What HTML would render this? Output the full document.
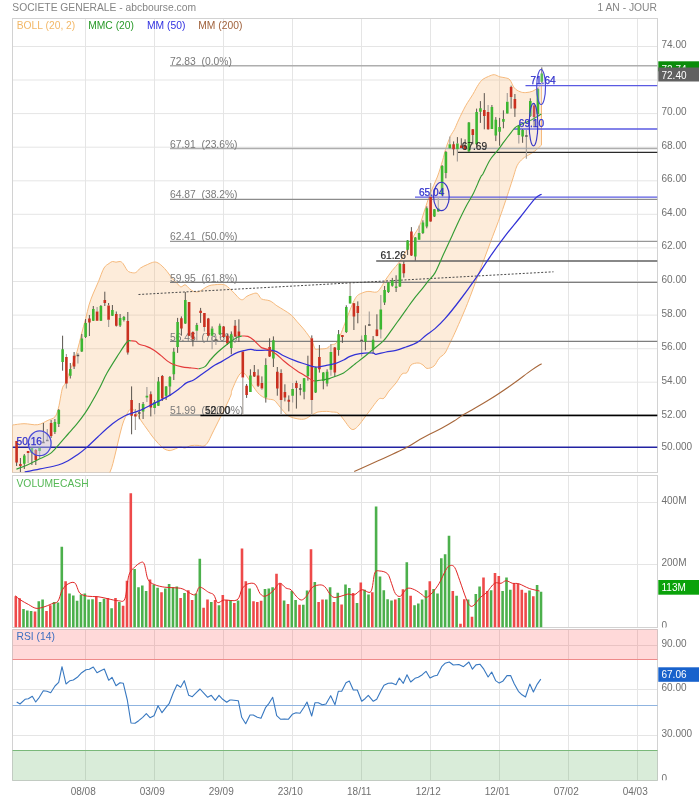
<!DOCTYPE html>
<html><head><meta charset="utf-8"><title>SOCIETE GENERALE</title>
<style>html,body{margin:0;padding:0;background:#fff}body{width:699px;height:800px;overflow:hidden;font-family:"Liberation Sans",sans-serif}svg{display:block;will-change:transform;transform:translateZ(0)}</style>
</head><body>
<svg width="699" height="800" viewBox="0 0 699 800" font-family="Liberation Sans, sans-serif" font-size="10.5">
<defs>
<clipPath id="c1"><rect x="12.5" y="18.5" width="645.0" height="454.0"/></clipPath>
<clipPath id="c2"><rect x="12.5" y="475.5" width="645.0" height="152.0"/></clipPath>
<clipPath id="c3"><rect x="12.5" y="629.5" width="645.0" height="151.0"/></clipPath>
<clipPath id="cz1"><rect x="658" y="600" width="41" height="27.4"/></clipPath>
<clipPath id="cz2"><rect x="658" y="760" width="41" height="20.3"/></clipPath>
</defs>
<rect width="699" height="800" fill="#fff"/>
<path d="M85.5 18.5V472.5M85.5 475.5V627.5M85.5 629.5V780.5M154.5 18.5V472.5M154.5 475.5V627.5M154.5 629.5V780.5M223.5 18.5V472.5M223.5 475.5V627.5M223.5 629.5V780.5M292.5 18.5V472.5M292.5 475.5V627.5M292.5 629.5V780.5M361.5 18.5V472.5M361.5 475.5V627.5M361.5 629.5V780.5M430.5 18.5V472.5M430.5 475.5V627.5M430.5 629.5V780.5M499.5 18.5V472.5M499.5 475.5V627.5M499.5 629.5V780.5M568.5 18.5V472.5M568.5 475.5V627.5M568.5 629.5V780.5M637.5 18.5V472.5M637.5 475.5V627.5M637.5 629.5V780.5M12.5 415.8H657.5M12.5 382.2H657.5M12.5 348.7H657.5M12.5 315.1H657.5M12.5 281.5H657.5M12.5 247.9H657.5M12.5 214.3H657.5M12.5 180.8H657.5M12.5 147.2H657.5M12.5 113.6H657.5M12.5 80H657.5M12.5 46.5H657.5M12.5 502.5H657.5M12.5 564.5H657.5M12.5 645.5H657.5M12.5 689.5H657.5M12.5 735.5H657.5" stroke="#e5e5e5" stroke-width="1" fill="none"/>
<rect x="12.5" y="18.5" width="645.0" height="454.0" fill="none" stroke="#d2d2d2" stroke-width="1"/>
<rect x="12.5" y="475.5" width="645.0" height="152.0" fill="none" stroke="#d2d2d2" stroke-width="1"/>
<rect x="12.5" y="629.5" width="645.0" height="151.0" fill="none" stroke="#d2d2d2" stroke-width="1"/>
<text x="12.3" y="11.1" fill="#858585" font-size="10.3">SOCIETE GENERALE - abcbourse.com</text>
<text x="657" y="11.1" fill="#858585" font-size="10.3" text-anchor="end">1 AN - JOUR</text>
<g clip-path="url(#c1)">
<path d="M12.5 425C14.4 424.8 19.8 423.8 24 423.7C28.2 423.6 33.8 425.3 37.8 424.7C41.8 424.1 45.1 421.6 48 420.3C50.9 419 53.3 418.8 55 416.8C56.7 414.8 57.4 411.7 58.4 408.2C59.4 404.7 60.1 399.5 60.8 396C61.5 392.5 61.9 389.6 62.7 387.3C63.5 385.1 64.2 385.9 65.7 382.5C67.2 379.1 69.5 372.2 71.4 367C73.3 361.8 75.4 356.8 77.1 351.4C78.8 345.9 80 339.8 81.4 334.3C82.8 328.8 84.4 323.5 85.7 318.6C87 313.7 87.8 309.1 89 305C90.2 300.9 91.4 297.9 93 294C94.6 290.1 96.7 285.8 98.5 281.5C100.3 277.2 102.2 271 104 268C105.8 265 107.6 264.6 109 263.5C110.4 262.4 111.3 261.7 112.5 261.5C113.7 261.3 114.8 262.2 116 262.2C117.2 262.2 118.8 261.3 120 261.5C121.2 261.7 122 262.3 123 263.5C124 264.7 125.1 267.2 126 268.5C126.9 269.8 127.3 270.8 128.4 271.5C129.5 272.2 131.4 272.7 132.7 272.8C134 272.9 134.9 273.1 136.2 272.3C137.5 271.5 138.7 269.3 140.5 268C142.3 266.7 145.3 265.5 147.3 264.6C149.3 263.7 150.9 262.8 152.5 262.4C154.1 262 155.2 261.8 156.8 262.4C158.4 263 160.2 264.3 161.9 265.8C163.6 267.3 165.4 269.4 167.1 271.5C168.8 273.6 170.6 276.4 172.2 278.3C173.8 280.2 175.1 281.2 176.5 282.6C177.9 284 179.4 286.5 180.8 286.9C182.2 287.3 183.7 284.5 185.1 284.8C186.5 285.1 188 287.5 189.4 288.6C190.8 289.7 192.1 291 193.7 291.5C195.3 292 197.2 292.1 198.8 291.7C200.4 291.3 201.4 290.1 203.1 289.1C204.8 288.1 207.2 286.4 209.1 285.7C211 285 212.3 285 214.3 284.8C216.3 284.6 219.2 284.2 221.1 284.3C222.9 284.4 224 284.5 225.4 285.2C226.8 285.9 228.1 287.2 229.7 288.6C231.3 290 233.3 292.2 234.9 293.8C236.5 295.4 237.9 297.4 239.2 298.4C240.5 299.4 241.3 300 242.6 299.7C243.9 299.4 245.3 297.2 246.9 296.3C248.5 295.4 250.3 294.6 252 294.1C253.7 293.6 255.6 292.6 257.2 293.4C258.8 294.2 259.4 297.6 261.5 298.9C263.6 300.1 267.4 299.8 270 300.9C272.6 302 274.6 304.3 276.9 305.8C279.2 307.3 281.4 308.4 283.8 310C286.2 311.6 289.4 313.3 291.5 315.2C293.6 317.1 294.7 318.9 296.7 321.2C298.7 323.5 301.5 326.5 303.5 328.9C305.5 331.3 307.3 333.8 308.7 335.8C310.1 337.8 311.1 338.8 312.1 340.9C313.2 343 313.9 347.3 315 348.7C316.1 350.1 317.1 349.1 319 349C320.9 348.9 324.7 349 326.7 348.3C328.7 347.6 329.4 345.8 331 344.9C332.6 344 334.5 344.9 336.1 343.2C337.7 341.5 339 338.1 340.4 334.9C341.8 331.7 343.3 327.5 344.7 323.8C346.1 320.1 347.6 316.2 349 312.6C350.4 309 352 305 353.3 302.3C354.6 299.6 355.5 297.8 356.7 296.3C357.9 294.9 358.8 294.4 360.7 293.6C362.6 292.8 365.3 291.6 367.9 291.4C370.5 291.1 374.3 292.7 376.4 292.1C378.5 291.5 379.3 289.8 380.7 287.9C382.1 286 383.1 283.6 385 280.7C386.9 277.8 389.7 273.8 392.1 270.7C394.5 267.6 396.9 265.4 399.3 262.1C401.7 258.8 404 255 406.4 250.7C408.8 246.3 411.4 240.2 413.6 236C415.8 231.8 417.7 230 419.5 225.8C421.3 221.6 422.6 216.3 424.4 211C426.1 205.7 427.9 199.7 430 194C432.1 188.3 435.2 182.5 437.3 177C439.4 171.5 441.1 165.4 442.5 160.8C443.9 156.2 444.2 153.6 445.5 149.5C446.8 145.4 448.8 139.8 450.3 136.5C451.8 133.2 453 132.2 454.4 129.5C455.8 126.8 456.7 124 458.6 120C460.5 116 463.3 110 465.7 105.7C468.1 101.4 470.8 97.9 472.9 94.3C475 90.7 476.9 86.8 478.6 84.3C480.3 81.8 481.2 80.6 482.9 79.3C484.6 78 486.7 77.2 488.6 76.4C490.5 75.6 492.4 74.6 494.3 74.7C496.2 74.8 498.1 76.4 500 76.9C501.9 77.4 504 77.4 505.7 77.9C507.4 78.4 508.6 78.3 510 80C511.4 81.7 512.6 86 514.3 87.9C516 89.9 518.1 90.9 520 91.7C521.9 92.5 523.6 92.7 525.7 92.6C527.9 92.5 530.8 92 532.9 91.1C535 90.2 537.1 88.4 538.5 87.3C539.9 86.2 541 85 541.5 84.6L541.5 145.1C540.3 146.2 536.4 149.8 534.3 151.4C532.1 153.1 530.5 153.8 528.6 155C526.7 156.2 524.8 156.8 522.9 158.6C521 160.4 518.9 162.1 517.1 165.7C515.4 169.3 515 172 512.4 180C509.8 188 504.9 203.1 501.2 213.7C497.4 224.3 493.6 233.7 489.9 243.7C486.1 253.7 482.4 263.7 478.7 273.7C474.9 283.7 471.1 294.3 467.4 303.7C463.6 313.1 459.1 323.3 456.2 329.9C453.3 336.4 451.9 339.1 450 343C448.1 346.9 446.8 350.4 445 353C443.2 355.6 440.8 356.2 439 358.4C437.2 360.6 436 364.3 434 366C432 367.7 428.8 368.6 427 368.4C425.2 368.2 424.5 365.9 423 365C421.5 364.1 420 363 418 363C416 363 412.8 363.4 411 365C409.2 366.6 408.5 371.1 407 372.6C405.5 374.1 403.8 372.3 402 374C400.2 375.7 398.2 380.2 396 383C393.8 385.8 391 388.5 389 391C387 393.5 385.5 397 384 398.2C382.5 399.4 381.2 397.9 380 398.4C378.8 398.9 378.5 399.2 377 401C375.5 402.8 373 406.3 371 409C369 411.7 367 414.3 365 417C363 419.7 360.8 422.9 359 425C357.2 427.1 355.5 428.8 354 429.3C352.5 429.8 351.7 429.6 350 428C348.3 426.4 346 422.5 344 420C342 417.5 340 414.3 338 413C336 411.7 333.9 412.3 332 412C330.1 411.7 328.8 411.4 326.4 411.4C324 411.4 320.3 411.4 317.9 412C315.5 412.6 314.1 413.9 312 415C309.9 416.1 307.4 418.2 305 418.9C302.6 419.5 300.5 419.3 297.9 418.9C295.3 418.5 291.7 417.6 289.3 416.4C286.9 415.1 285.5 413.4 283.6 411.4C281.7 409.4 279.6 406.2 277.9 404.3C276.2 402.4 275.5 400.9 273.6 400C271.7 399.1 268.8 399.6 266.4 398.6C264 397.7 261.4 396.2 259.3 394.3C257.2 392.4 255.8 390.1 253.6 387C251.4 383.9 248.3 378.1 246.4 375.7C244.5 373.3 243.4 372.4 242 372.6C240.6 372.8 239.6 374.1 237.9 377C236.2 379.9 233.2 387 232 390C230.8 393 232 392.3 231 395C230 397.7 227.7 402.5 226 406C224.3 409.5 222.7 412.7 221 416C219.3 419.3 217.5 423 216 426C214.5 429 213.3 431.3 212 434C210.7 436.7 209.3 440 208 442C206.7 444 205.7 445.4 204 446C202.3 446.6 200.2 445.5 198 445.4C195.8 445.3 193.2 445.2 191 445.6C188.8 446 186.8 447.8 185 448C183.2 448.2 181.8 446.8 180 447C178.2 447.2 175.8 448.8 174 449.4C172.2 450 170.8 450.8 169 450.6C167.2 450.4 165 449.4 163 448C161 446.6 158.8 444 157 442C155.2 440 153.7 438.2 152 436C150.3 433.8 148.7 431.3 147 429C145.3 426.7 143.7 424.5 142 422C140.3 419.5 138.5 416.1 137 414C135.5 411.9 134.2 410.2 133 409.4C131.8 408.6 131 408.6 130 409.4C129 410.2 128.2 411.7 127 414C125.8 416.3 124.3 419 123 423C121.7 427 120.3 432.7 119 438C117.7 443.3 116.5 449.3 115 455C113.5 460.7 112.5 466.5 110 472C107.5 477.5 108.3 484.7 100 488C91.7 491.3 74.6 491.7 60 492C45.4 492.3 20.4 490.3 12.5 490Z" fill="#f7b571" fill-opacity="0.26" stroke="#f5b97c" stroke-width="1" stroke-linejoin="round"/>
<path d="M170 65.8H657.5" stroke="#aeaeae" stroke-width="1.6"/>
<text x="170" y="64.9" fill="#7a7a7a" font-size="10.3" xml:space="preserve" style="white-space:pre">72.83  (0.0%)</text>
<path d="M170 148.5H657.5" stroke="#aeaeae" stroke-width="1.6"/>
<text x="170" y="147.6" fill="#7a7a7a" font-size="10.3" xml:space="preserve" style="white-space:pre">67.91  (23.6%)</text>
<path d="M170 199.3H657.5" stroke="#8c8c8c" stroke-width="1.25"/>
<text x="170" y="198.4" fill="#7a7a7a" font-size="10.3" xml:space="preserve" style="white-space:pre">64.87  (38.2%)</text>
<path d="M170 241.3H657.5" stroke="#979797" stroke-width="1.15"/>
<text x="170" y="240.4" fill="#7a7a7a" font-size="10.3" xml:space="preserve" style="white-space:pre">62.41  (50.0%)</text>
<path d="M170 282.4H657.5" stroke="#7e7e7e" stroke-width="1.15"/>
<text x="170" y="281.5" fill="#7a7a7a" font-size="10.3" xml:space="preserve" style="white-space:pre">59.95  (61.8%)</text>
<path d="M170 341.4H657.5" stroke="#7e7e7e" stroke-width="1.15"/>
<text x="170" y="340.5" fill="#7a7a7a" font-size="10.3" xml:space="preserve" style="white-space:pre">56.45  (78.6%)</text>
<path d="M170 415.2H657.5" stroke="#8a8a8a" stroke-width="1.2"/>
<text x="170" y="414.3" fill="#7a7a7a" font-size="10.3" xml:space="preserve" style="white-space:pre">51.99  (100.0%)</text>
<path d="M200.4 415.5H657.5" stroke="#000" stroke-width="1.6"/>
<path d="M376.2 261H657.5" stroke="#606060" stroke-width="1.7"/>
<path d="M457 152.4H657.5" stroke="#2a2a2a" stroke-width="1.1"/>
<path d="M12.5 447.2H657.5" stroke="#2222a2" stroke-width="1.35"/>
<path d="M415 197.1H657.5" stroke="#5a5ae2" stroke-width="1.35"/>
<path d="M514 129H657.5" stroke="#5a5ae2" stroke-width="1.35"/>
<path d="M525.5 85.6H657.5" stroke="#5a5ae2" stroke-width="1.35"/>
<path d="M138.5 294.5L553.5 271.8" stroke="#4a4a4a" stroke-width="1" stroke-dasharray="2 1.7"/>
<path d="M16.6 441V466M20.4 458V472M24.3 454V469M31.9 447V465M35.8 449V465M39.6 447V448M43.4 423V443M51.1 420V438M54.9 419V434M58.8 409V427M62.6 335.7V370.7M70.3 363V378.5M74.1 352V369M81.8 334V352M85.6 319V338M89.4 315V336M93.3 306V321M97.1 320.7V321M100.9 305V321M104.8 291.7V306M108.6 303V305.4M112.4 305V316M116.3 311.5V326.5M120.1 314V327M123.9 316V321.5M127.8 312V354.6M131.6 386.4V434.3M139.3 403V419.3M143.1 402V419M150.8 391.4V416.4M154.6 400V402M158.4 377V406M162.3 375V401M166.1 386V400M169.9 376V396M173.8 347.9V380M177.6 317.9V352.9M181.4 316.4V335.7M185.3 292V324M189.1 302V336M192.9 331.4V346.4M196.8 322.9V325M200.6 307.9V322.9M204.4 313V313M208.3 317.9V336M212.1 326.4V328.6M219.8 323.6V335M223.6 326V338M227.4 334V345M231.3 331.4V354.3M235.1 320V337M238.9 319.3V342M242.8 351V351.4M246.6 384V397.9M250.4 369.3V392M254.3 365V377M258.1 369.3V387M261.9 376.4V382.9M265.8 358.3V402.6M269.6 338.3V357M273.4 336.4V367M277.3 367V395.7M281.1 369.3V372.9M284.9 384.3V401.4M288.8 395.4V411.4M296.4 380.7V408.6M300.3 384V395.4M304.1 378V399.3M307.9 355.7V380.7M311.8 335.4V338.3M315.6 367V393M319.4 345V372.6M323.3 372V389.3M327.1 369.3V386.4M334.8 347V377M338.6 330V355.7M342.4 335V342.9M346.3 305.3V333M350.1 303.6V304M353.9 303V330M357.8 301.4V323.3M365.4 325.3V350.3M373.1 336V354M376.9 314.3V336.3M384.6 286V305M388.4 282V293M392.3 277.9V286.7M396.1 275.3V292M399.9 263V287M403.8 261.4V277.6M407.6 240V255M411.4 227.1V256M415.3 237V260.7M419.1 239.7V240M422.9 220.3V234M426.8 206.4V228.3M430.6 221.4V222M434.4 209V217M442.1 165V196M445.9 151V178.3M449.8 148.3V148.5M453.6 141.4V155.4M457.4 137.1V143.6M461.3 138.3V148M465.1 139.3V150M468.9 122V152M472.8 129V144.3M476.6 108.6V145M480.4 101.1V122.9M484.3 93.1V129.3M488.1 129.3V130M491.9 105V129M495.8 117.1V141.1M499.6 117.9V145.7M503.4 110.3V128.3M507.3 113.6V114M511.1 85.7V108.6M514.9 94V116.9M518.8 125V126M522.6 129V142.8M530.3 98.3V117M534.1 103V126M537.9 88V116M541.8 67.4V83" stroke="#5a544e" stroke-width="1" fill="none"/>
<path d="M28.1 451V463M39.6 451V458M47.3 429V441M66.4 354V388.5M77.9 353V363.5M97.1 307V311.4M108.6 319.7V327M135.4 409V430M146.9 387V402M154.6 407.9V414.3M196.8 330.7V340.7M204.4 326.9V331.4M212.1 335.7V349.3M215.9 335.7V345M242.8 377.4V415M261.9 388.6V390M281.1 400V415M292.6 382.9V402.6M311.8 400V415M330.9 344V375.7M350.1 282.9V296.1M361.6 335.5V356.5M369.3 311.4V325.5M380.8 295V338.6M419.1 225.4V233.1M430.6 182.9V197.1M438.3 197V212M449.8 136.4V144.3M457.4 149.3V161.4M488.1 105V112.1M507.3 93.1V101.7M518.8 135V143.6M526.4 130V158.8" stroke="#a8a29c" stroke-width="1.2" fill="none"/>
<path d="M23 455.5h2.6v8.2h-2.6zM30.6 448h2.6v5h-2.6zM38.3 448h2.6v3h-2.6zM53.6 422h2.6v10h-2.6zM57.5 410h2.6v14h-2.6zM61.3 349.3h2.6v12.7h-2.6zM69 369h2.6v6.7h-2.6zM80.5 338.6h2.6v12.8h-2.6zM84.3 322.9h2.6v14.1h-2.6zM92 309h2.6v11.7h-2.6zM99.6 306h2.6v14.7h-2.6zM111.1 310h2.6v5.7h-2.6zM118.8 317.9h2.6v7.5h-2.6zM122.6 317h2.6v3h-2.6zM141.8 404h2.6v7.4h-2.6zM145.6 395.7h2.6v1.8h-2.6zM153.3 402h2.6v5.9h-2.6zM157.1 381.4h2.6v24.3h-2.6zM164.8 386.4h2.6v9.3h-2.6zM168.6 376.9h2.6v9.5h-2.6zM172.5 351.7h2.6v22.6h-2.6zM176.3 322h2.6v24.9h-2.6zM184 300h2.6v23.6h-2.6zM195.5 325h2.6v5.7h-2.6zM210.8 328.6h2.6v7.1h-2.6zM218.5 325.7h2.6v8.6h-2.6zM230 334.3h2.6v13.6h-2.6zM249.1 375.4h2.6v16.6h-2.6zM264.5 365h2.6v32.4h-2.6zM272.1 340.3h2.6v18.3h-2.6zM291.3 388.9h2.6v6.8h-2.6zM302.8 378.3h2.6v13.4h-2.6zM306.6 366h2.6v10h-2.6zM314.3 367.4h2.6v25.2h-2.6zM322 372.6h2.6v8.5h-2.6zM325.8 371.7h2.6v11.9h-2.6zM329.6 352.1h2.6v17.6h-2.6zM337.3 334.3h2.6v15.7h-2.6zM345 307.1h2.6v25h-2.6zM348.8 296.1h2.6v7.5h-2.6zM364.1 335h2.6v6.8h-2.6zM371.8 339.8h2.6v9.6h-2.6zM379.5 309.6h2.6v20h-2.6zM383.3 290h2.6v12.4h-2.6zM387.1 282.4h2.6v9.7h-2.6zM391 280.4h2.6v5.3h-2.6zM394.8 286.4h2.6v1.6h-2.6zM398.6 263.9h2.6v22.5h-2.6zM406.3 240.4h2.6v9.3h-2.6zM414 237.5h2.6v18.9h-2.6zM417.8 233.1h2.6v6.6h-2.6zM421.6 222.6h2.6v10.5h-2.6zM425.5 208.3h2.6v18.1h-2.6zM433.1 209.3h2.6v7.1h-2.6zM437 208.6h2.6v2.8h-2.6zM440.8 166h2.6v29h-2.6zM444.6 152.1h2.6v21h-2.6zM448.5 144.3h2.6v4h-2.6zM456.1 143.6h2.6v5.7h-2.6zM467.6 122.6h2.6v28.8h-2.6zM475.3 112.1h2.6v32.2h-2.6zM479.1 108.3h2.6v3.4h-2.6zM490.6 106.9h2.6v22h-2.6zM494.5 119.7h2.6v15.7h-2.6zM498.3 127.1h2.6v4.6h-2.6zM502.1 118.9h2.6v2.8h-2.6zM506 101.7h2.6v11.9h-2.6zM517.5 126h2.6v9h-2.6zM521.3 130h2.6v6.6h-2.6zM529 101h2.6v15h-2.6zM536.6 89h2.6v25h-2.6zM540.5 73.6h2.6v8.2h-2.6z" fill="#3db732"/>
<path d="M15.3 441h2.6v21.4h-2.6zM19.1 464h2.6v2h-2.6zM26.8 451h2.6v2h-2.6zM34.5 450h2.6v10h-2.6zM49.8 423h2.6v13h-2.6zM65.1 357h2.6v26.6h-2.6zM72.8 355.7h2.6v10.7h-2.6zM88.1 318.6h2.6v4h-2.6zM95.8 311.4h2.6v9.3h-2.6zM103.5 300h2.6v2.9h-2.6zM107.3 305.4h2.6v14.3h-2.6zM115 314h2.6v11.7h-2.6zM126.5 321h2.6v31.6h-2.6zM130.3 400h2.6v15.7h-2.6zM134.1 414.3h2.6v2.1h-2.6zM149.5 394.3h2.6v13.3h-2.6zM161 376h2.6v22.6h-2.6zM180.1 318.3h2.6v10.3h-2.6zM187.8 302h2.6v33.7h-2.6zM191.6 332h2.6v7.3h-2.6zM199.3 310.7h2.6v2.2h-2.6zM203.1 313h2.6v13.9h-2.6zM207 318.6h2.6v17.1h-2.6zM222.3 326.4h2.6v10.6h-2.6zM226.1 335.7h2.6v7.9h-2.6zM233.8 325.7h2.6v10.7h-2.6zM237.6 331.4h2.6v5h-2.6zM241.5 351.4h2.6v26h-2.6zM245.3 385.7h2.6v9.3h-2.6zM253 372h2.6v4.4h-2.6zM256.8 375.4h2.6v10.3h-2.6zM260.6 382.9h2.6v5.7h-2.6zM268.3 346.9h2.6v9.5h-2.6zM276 371.7h2.6v16.9h-2.6zM279.8 372.9h2.6v27.1h-2.6zM283.6 392h2.6v5.4h-2.6zM287.5 399.7h2.6v2h-2.6zM295.1 382.9h2.6v5h-2.6zM310.5 338.3h2.6v61.7h-2.6zM318.1 357.1h2.6v12.2h-2.6zM333.5 347.4h2.6v25.2h-2.6zM341.1 335h2.6v2h-2.6zM352.6 303.3h2.6v13.1h-2.6zM356.5 306.1h2.6v6.8h-2.6zM375.6 329.6h2.6v6.5h-2.6zM402.5 263.9h2.6v9.4h-2.6zM410.1 231.4h2.6v24h-2.6zM429.3 197.1h2.6v24.3h-2.6zM452.3 144.3h2.6v5h-2.6zM460 145.4h2.6v2.5h-2.6zM463.8 145.4h2.6v3.9h-2.6zM471.5 129.3h2.6v5.7h-2.6zM483 110h2.6v6h-2.6zM486.8 112.1h2.6v17.2h-2.6zM509.8 86.9h2.6v10h-2.6zM513.6 98.9h2.6v9.7h-2.6zM532.8 105.6h2.6v11.4h-2.6z" fill="#c93020"/>
<path d="M42.1 441.8h2.6v1.4h-2.6zM46 439.8h2.6v1.4h-2.6zM76.6 354.8h2.6v1.4h-2.6zM138 412.3h2.6v1.4h-2.6zM214.6 339.3h2.6v1.4h-2.6zM299 388.3h2.6v1.4h-2.6zM360.3 339.8h2.6v1.4h-2.6zM368 324.3h2.6v1.4h-2.6zM525.1 135.3h2.6v1.4h-2.6z" fill="#5a544e"/>
<path d="M354.2 471.6C358.1 469.9 368.6 465.2 377.5 461.1C386.4 457 400.6 450.4 407.5 446.9C414.4 443.4 415.2 442.1 419 440C422.8 437.9 426.2 436 430 434C433.8 432 438 430.2 442 428C446 425.8 450.7 423.1 454 421C457.3 418.9 459.3 417.3 462 415.6C464.7 413.9 465.4 413.7 470 411C474.6 408.3 482.8 403.8 489.9 399.3C497 394.9 505.5 389.1 512.4 384.3C519.3 379.5 526.3 373.8 531.2 370.4C536.1 367 539.9 364.8 541.6 363.7" fill="none" stroke="#a8683c" stroke-width="1.1"/>
<path d="M24.7 472C27.3 471.5 34.6 470.1 40.2 468.9C45.8 467.7 53.5 466.4 58.2 465C62.9 463.6 65.3 462.2 68.5 460.5C71.7 458.8 74.5 456.8 77.5 454.7C80.5 452.6 83.1 450.6 86.5 447.6C89.9 444.6 93.7 440.7 98 436.7C102.3 432.7 108 427.3 112.5 423.8C117 420.3 120.5 417.9 125 415.7C129.5 413.5 134.5 412.7 139.3 410.7C144.1 408.7 148.8 406 153.6 403.6C158.4 401.2 163.6 398.9 167.9 396.4C172.2 393.9 176.2 390.9 179.3 388.6C182.4 386.4 184 384.3 186.4 382.9C188.8 381.5 191.2 381.3 193.6 380C196 378.7 198.3 376.7 200.7 375C203.1 373.3 205.5 371.7 207.9 370C210.3 368.3 212.7 366.4 215 365C217.3 363.6 219.6 362.7 222 361.4C224.4 360.1 226.9 358.4 229.3 357C231.7 355.6 234 353.9 236.4 352.9C238.8 351.8 241.2 351.3 243.6 350.7C246 350.1 248.6 349.4 250.7 349.3C252.8 349.2 252.6 350.1 256.4 350.3C260.2 350.5 269.1 349.8 273.6 350.7C278.1 351.6 280 354 283.6 355.7C287.2 357.4 291.4 359.3 295 360.7C298.6 362.1 302.2 363.1 305 364C307.8 364.9 309.9 365.9 312 366.4C314.1 366.9 315.5 367.2 317.9 367C320.3 366.8 323.5 366 326.4 365.4C329.2 364.8 332.1 364.5 335 363.6C337.9 362.7 341.1 361.2 343.6 360C346.1 358.8 347.3 357.5 350 356.4C352.7 355.3 356.2 354.2 360 353.6C363.8 353 370.3 352.9 373 353C375.7 353.1 373.8 354.5 376 354.3C378.2 354.1 382.7 352.6 386 352C389.3 351.4 392.7 351.2 396 350.4C399.3 349.6 403 348.1 406 347C409 345.9 411.8 345 414 344C416.2 343 416.9 342.7 419 341.2C421.1 339.7 423.7 337.1 426.4 335C429.1 332.9 431.9 331.3 435 328.6C438.1 325.9 440.8 323.5 445 318.7C449.2 313.9 455 306.6 460 300C465 293.4 470 286.5 475 279.3C480 272.1 485 264 490 256.8C495 249.6 500 242.8 505 236.2C510 229.6 515 223.8 520 217.5C525 211.2 531.4 202.6 535 198.7C538.6 194.8 540.5 194.9 541.6 194.2" fill="none" stroke="#3232d6" stroke-width="1.25"/>
<path d="M16.4 469.2C18.2 468.5 23.3 466.8 27.3 465C31.3 463.2 36.3 460.5 40.2 458.6C44.1 456.7 47.3 455.9 50.5 453.4C53.7 450.9 56.5 447.1 59.5 443.8C62.5 440.5 65.5 436.9 68.5 433.5C71.5 430.1 74.7 426.6 77.5 423.2C80.3 419.8 83 416.1 85.2 412.9C87.4 409.7 88.3 408.1 90.7 404C93.1 399.9 96.9 393.2 99.6 388C102.3 382.8 103.8 378.6 107 373C110.2 367.4 115.3 359.5 118.6 354.3C121.9 349.1 124.9 344.2 127 342C129.1 339.8 130.3 341 131 340.8" fill="none" stroke="#359c35" stroke-width="1.15"/>
<path d="M131 340.8C131.8 340.9 134.3 340.7 135.7 341.3C137.1 341.9 137.5 343.5 139.3 344.3C141.1 345.1 144 345.4 146.4 346.4C148.8 347.3 151.2 348.5 153.6 350C156 351.5 158.3 353.5 160.7 355.4C163.1 357.3 165.8 359.9 167.9 361.4C170.1 362.9 171.2 363.6 173.6 364.5C175.9 365.4 179.2 366.3 182 366.9C184.8 367.5 187.9 367.6 190.7 367.9C193.5 368.2 197.3 368.6 198.6 368.8" fill="none" stroke="#e43a3a" stroke-width="1.15"/>
<path d="M198.6 368.8C199.7 368.4 203 368.2 205 366.6C207 365.1 208.5 361.9 210.7 359.5C212.8 357.1 215.5 354.2 217.9 352C220.3 349.8 222.7 347.9 225 346C227.3 344.1 229.8 342.2 232 340.7C234.2 339.2 236.2 337.9 237.9 337.1C239.6 336.3 241.3 336.2 242 336" fill="none" stroke="#359c35" stroke-width="1.15"/>
<path d="M242 336C243 336.1 246 335.7 247.9 336.4C249.8 337.1 251.7 338.4 253.6 340C255.5 341.6 257.9 344.4 259.3 345.7C260.7 347 260.3 347.2 262 347.9C263.7 348.6 266.9 348.9 269.3 350C271.7 351.1 274 352.5 276.4 354.3C278.8 356.1 281.2 358.7 283.6 360.7C286 362.7 288.3 364.6 290.7 366.4C293.1 368.2 295.5 369.8 297.9 371.4C300.3 372.9 302.6 374.2 305 375.7C307.4 377.2 310.3 379.4 312 380.3C313.7 381.2 314.5 380.9 315 381" fill="none" stroke="#e43a3a" stroke-width="1.15"/>
<path d="M315 381C316.2 380.8 319.6 380.4 322 380C324.4 379.6 326.9 379.3 329.3 378.6C331.7 377.9 334 376.9 336.4 376C338.8 375.1 341.5 374.1 343.6 372.9C345.8 371.7 347.4 370.1 349.3 368.6C351.2 367.1 352.6 365.9 355 364C357.4 362.1 360.9 359.5 364 357C367.1 354.5 370.3 351.7 373.6 349C376.9 346.3 380.5 344 383.6 340.7C386.7 337.4 389.5 332.9 392.1 329.3C394.7 325.7 396.9 322.6 399.3 319.3C401.7 316 404 312.6 406.4 309.3C408.8 306 411.2 302.4 413.6 299.3C416 296.2 418.3 293.7 420.7 290.7C423.1 287.7 425.5 284.4 427.9 281.4C430.3 278.4 432.4 277.5 435 272.9C437.6 268.3 440.8 260.2 443.6 254C446.5 247.8 449.5 241.4 452.1 235.7C454.7 230 456.9 225 459.3 220C461.7 215 464 210.2 466.4 205.7C468.8 201.2 471.2 197.7 473.6 192.9C476 188.1 479.1 180.2 480.7 177.1C482.2 173.9 481.3 176.8 482.9 174C484.4 171.2 487.6 163.8 490 160C492.4 156.2 494.7 154.2 497.1 151.1C499.5 148 501.9 144.6 504.3 141.4C506.7 138.2 509.5 134.5 511.4 132.1C513.3 129.7 513.8 128.5 515.7 127.1C517.6 125.7 520.3 124.8 522.9 123.6C525.5 122.4 528.3 121.6 531.4 120C534.5 118.4 539.6 115.1 541.3 114.1" fill="none" stroke="#359c35" stroke-width="1.15"/>
<ellipse cx="39.7" cy="443.3" rx="11.4" ry="12.4" fill="#c4c8ea" fill-opacity="0.45" stroke="#4a4ad8" stroke-width="1.3"/>
<ellipse cx="441.4" cy="196.4" rx="7.8" ry="14.2" fill="#e4e6fa" fill-opacity="0.18" stroke="#3636c6" stroke-width="1.15"/>
<ellipse cx="533.5" cy="124.6" rx="4.3" ry="21.3" fill="#e4e6fa" fill-opacity="0.18" stroke="#3636c6" stroke-width="1.15"/>
<ellipse cx="541.1" cy="87" rx="4.4" ry="17.5" fill="#e4e6fa" fill-opacity="0.18" stroke="#4848d6" stroke-width="1.15"/>
<text x="16.5" y="445" fill="#3030cc" stroke="#3030cc" stroke-width="0.25" font-size="10.2">50.16</text>
<text x="419" y="195.5" fill="#3030cc" stroke="#3030cc" stroke-width="0.25" font-size="10.1">65.04</text>
<text x="518.8" y="126.5" fill="#3030cc" stroke="#3030cc" stroke-width="0.25" font-size="10.1">69.10</text>
<text x="530.4" y="83.7" fill="#3030cc" stroke="#3030cc" stroke-width="0.25" font-size="10.1">71.64</text>
<text x="380.4" y="258.7" fill="#2a2a2a" stroke="#2a2a2a" stroke-width="0.2" font-size="10.2">61.26</text>
<text x="461.8" y="150.2" fill="#2a2a2a" stroke="#2a2a2a" stroke-width="0.2" font-size="10.1">67.69</text>
<text x="204.9" y="414.3" fill="#2a2a2a" stroke="#2a2a2a" stroke-width="0.2" font-size="10.1">52.00</text>
</g>
<text x="16.7" y="28.6" fill="#f2b868" font-size="10.3">BOLL (20, 2)</text>
<text x="88.2" y="28.6" fill="#2a9a2a" font-size="10.3">MMC (20)</text>
<text x="147" y="28.6" fill="#3030e0" font-size="10.3">MM (50)</text>
<text x="198.3" y="28.6" fill="#a0623c" font-size="10.3">MM (200)</text>
<text x="661.5" y="417.6" fill="#707070" font-size="10">52.00</text>
<text x="661.5" y="384" fill="#707070" font-size="10">54.00</text>
<text x="661.5" y="350.4" fill="#707070" font-size="10">56.00</text>
<text x="661.5" y="316.7" fill="#707070" font-size="10">58.00</text>
<text x="661.5" y="283.1" fill="#707070" font-size="10">60.00</text>
<text x="661.5" y="249.4" fill="#707070" font-size="10">62.00</text>
<text x="661.5" y="215.8" fill="#707070" font-size="10">64.00</text>
<text x="661.5" y="182.2" fill="#707070" font-size="10">66.00</text>
<text x="661.5" y="148.5" fill="#707070" font-size="10">68.00</text>
<text x="661.5" y="114.9" fill="#707070" font-size="10">70.00</text>
<text x="661.5" y="81.2" fill="#707070" font-size="10">72.00</text>
<text x="661.5" y="47.6" fill="#707070" font-size="10">74.00</text>
<text x="661.5" y="450.4" fill="#707070" font-size="10">50.000</text>
<rect x="658.3" y="61.3" width="41" height="10" fill="#0a8c0a"/>
<text x="661.5" y="72.7" fill="#fff" font-size="10">72.74</text>
<rect x="658.3" y="67.5" width="41" height="14" fill="#606060"/>
<text x="661.5" y="78.5" fill="#fff" font-size="10">72.40</text>
<g clip-path="url(#c2)">
<path d="M22.2 609h2.6V627.5h-2.6zM26 610.4h2.6V627.5h-2.6zM29.8 611h2.6V627.5h-2.6zM37.5 601.3h2.6V627.5h-2.6zM41.3 599.5h2.6V627.5h-2.6zM52.8 601.9h2.6V627.5h-2.6zM56.7 602.6h2.6V627.5h-2.6zM60.5 546.7h2.6V627.5h-2.6zM68.2 593.6h2.6V627.5h-2.6zM72 595.4h2.6V627.5h-2.6zM75.8 600.8h2.6V627.5h-2.6zM79.7 594.4h2.6V627.5h-2.6zM83.5 593.6h2.6V627.5h-2.6zM87.3 599.5h2.6V627.5h-2.6zM91.2 599.3h2.6V627.5h-2.6zM98.8 601.9h2.6V627.5h-2.6zM102.7 598.8h2.6V627.5h-2.6zM110.3 608.3h2.6V627.5h-2.6zM118 601.9h2.6V627.5h-2.6zM133.3 569.1h2.6V627.5h-2.6zM137.2 587.2h2.6V627.5h-2.6zM141 585.4h2.6V627.5h-2.6zM144.8 591h2.6V627.5h-2.6zM152.5 584.6h2.6V627.5h-2.6zM156.3 587.7h2.6V627.5h-2.6zM164 588.5h2.6V627.5h-2.6zM167.8 584.1h2.6V627.5h-2.6zM171.7 587.2h2.6V627.5h-2.6zM175.5 586.4h2.6V627.5h-2.6zM183.2 593.1h2.6V627.5h-2.6zM194.7 593.6h2.6V627.5h-2.6zM198.5 558.8h2.6V627.5h-2.6zM210 602.1h2.6V627.5h-2.6zM217.7 605.2h2.6V627.5h-2.6zM229.2 600h2.6V627.5h-2.6zM236.8 600.6h2.6V627.5h-2.6zM248.3 588.5h2.6V627.5h-2.6zM263.7 589h2.6V627.5h-2.6zM267.5 588.5h2.6V627.5h-2.6zM271.3 587.2h2.6V627.5h-2.6zM282.8 600.6h2.6V627.5h-2.6zM290.5 591h2.6V627.5h-2.6zM294.3 600h2.6V627.5h-2.6zM302 604.7h2.6V627.5h-2.6zM305.8 590.5h2.6V627.5h-2.6zM313.5 582h2.6V627.5h-2.6zM325 599.5h2.6V627.5h-2.6zM328.8 587.2h2.6V627.5h-2.6zM336.5 592.8h2.6V627.5h-2.6zM344.2 584.6h2.6V627.5h-2.6zM348 588h2.6V627.5h-2.6zM355.7 603.1h2.6V627.5h-2.6zM363.3 589.8h2.6V627.5h-2.6zM367.2 594.4h2.6V627.5h-2.6zM374.8 506.6h2.6V627.5h-2.6zM378.7 576.4h2.6V627.5h-2.6zM382.5 590.3h2.6V627.5h-2.6zM386.3 599.3h2.6V627.5h-2.6zM390.2 600.6h2.6V627.5h-2.6zM397.8 598h2.6V627.5h-2.6zM405.5 562.2h2.6V627.5h-2.6zM413.2 605.2h2.6V627.5h-2.6zM417 603.4h2.6V627.5h-2.6zM420.8 599.5h2.6V627.5h-2.6zM424.7 590.3h2.6V627.5h-2.6zM432.3 589h2.6V627.5h-2.6zM436.2 593.6h2.6V627.5h-2.6zM440 558.3h2.6V627.5h-2.6zM443.8 554.2h2.6V627.5h-2.6zM447.7 535.7h2.6V627.5h-2.6zM455.3 595.7h2.6V627.5h-2.6zM466.8 599.5h2.6V627.5h-2.6zM474.5 594.1h2.6V627.5h-2.6zM478.3 586.4h2.6V627.5h-2.6zM489.8 590.3h2.6V627.5h-2.6zM501.3 591h2.6V627.5h-2.6zM505.2 577.6h2.6V627.5h-2.6zM509 589.8h2.6V627.5h-2.6zM528.2 590.5h2.6V627.5h-2.6zM535.8 585.1h2.6V627.5h-2.6zM539.7 591.8h2.6V627.5h-2.6z" fill="#4cb04c"/>
<path d="M14.5 596.2h2.6V627.5h-2.6zM18.3 598.3h2.6V627.5h-2.6zM33.7 611.6h2.6V627.5h-2.6zM45.2 610.9h2.6V627.5h-2.6zM49 605.2h2.6V627.5h-2.6zM64.3 581.3h2.6V627.5h-2.6zM95 596.2h2.6V627.5h-2.6zM106.5 598h2.6V627.5h-2.6zM114.2 598h2.6V627.5h-2.6zM121.8 605.7h2.6V627.5h-2.6zM125.7 580.7h2.6V627.5h-2.6zM129.5 493.2h2.6V627.5h-2.6zM148.7 579.4h2.6V627.5h-2.6zM160.2 592.3h2.6V627.5h-2.6zM179.3 598h2.6V627.5h-2.6zM187 590.3h2.6V627.5h-2.6zM190.8 600h2.6V627.5h-2.6zM202.3 607.8h2.6V627.5h-2.6zM206.2 599.5h2.6V627.5h-2.6zM213.8 600h2.6V627.5h-2.6zM221.5 594.9h2.6V627.5h-2.6zM225.3 600h2.6V627.5h-2.6zM233 603.1h2.6V627.5h-2.6zM240.7 548.5h2.6V627.5h-2.6zM244.5 581.3h2.6V627.5h-2.6zM252.2 601.3h2.6V627.5h-2.6zM256 601.9h2.6V627.5h-2.6zM259.8 600.8h2.6V627.5h-2.6zM275.2 573.8h2.6V627.5h-2.6zM279 583.3h2.6V627.5h-2.6zM286.7 603.9h2.6V627.5h-2.6zM298.2 604.7h2.6V627.5h-2.6zM309.7 549.3h2.6V627.5h-2.6zM317.3 601.9h2.6V627.5h-2.6zM321.2 599.5h2.6V627.5h-2.6zM332.7 601.9h2.6V627.5h-2.6zM340.3 604.4h2.6V627.5h-2.6zM351.8 593.1h2.6V627.5h-2.6zM359.5 582.5h2.6V627.5h-2.6zM371 592.3h2.6V627.5h-2.6zM394 599.5h2.6V627.5h-2.6zM401.7 589.2h2.6V627.5h-2.6zM409.3 595.7h2.6V627.5h-2.6zM428.5 581.3h2.6V627.5h-2.6zM451.5 591h2.6V627.5h-2.6zM459.2 623.7h2.6V627.5h-2.6zM463 599.3h2.6V627.5h-2.6zM470.7 616.8h2.6V627.5h-2.6zM482.2 577.4h2.6V627.5h-2.6zM486 591h2.6V627.5h-2.6zM493.7 573h2.6V627.5h-2.6zM497.5 576.1h2.6V627.5h-2.6zM512.8 583.3h2.6V627.5h-2.6zM516.7 584.1h2.6V627.5h-2.6zM520.5 589.8h2.6V627.5h-2.6zM524.3 592.8h2.6V627.5h-2.6zM532 596.2h2.6V627.5h-2.6z" fill="#ee4a4a"/>
<path d="M15 595.7C15.9 596.4 18.4 598.5 20.6 600C22.8 601.5 25.7 603 28.3 604.4C30.9 605.8 33.4 607.9 36 608.3C38.6 608.7 41.2 607.7 43.8 607C46.4 606.3 49.1 604.9 51.5 603.9C53.9 602.9 56.2 603.4 57.9 601.3C59.6 599.1 60.3 593.8 61.8 591C63.3 588.2 64.8 586 67 584.6C69.2 583.2 72.6 581.4 74.7 582.8C76.8 584.2 77.7 590.9 79.8 593.1C81.9 595.3 84.6 595.6 87.6 596.2C90.6 596.8 94.5 596.3 97.9 596.7C101.3 597.1 104.8 598.1 108.2 598.8C111.6 599.5 115.7 600.8 118.5 600.8C121.3 600.8 123.2 603 124.9 598.8C126.6 594.6 127.3 580.8 128.8 575.6C130.3 570.5 132 570 133.9 567.9C135.8 565.8 138.7 563.4 140.4 562.7C142.1 562.1 142.9 561.2 144.2 564C145.5 566.8 146.3 576 148 579.4C149.7 582.8 151.7 583.3 154.5 584.6C157.3 585.9 161.4 586.7 164.8 587.2C168.2 587.7 172 587.5 175 587.8C178 588.1 179.7 587.8 182.9 589C186.2 590.2 191.7 595.2 194.5 594.9C197.3 594.6 197.2 587.6 199.6 587.2C201.9 586.8 206.2 591 208.6 592.3C211 593.6 212.3 593.2 213.8 594.9C215.3 596.6 215.9 601.8 217.6 602.6C219.3 603.5 220.9 600.4 224.1 600C227.3 599.6 234 601.8 237 600C240 598.2 240.4 591.6 242.1 589C243.8 586.4 245.2 584.9 247.3 584.1C249.5 583.3 252.9 582.5 255 584.1C257.1 585.7 258.4 591.6 260.1 593.6C261.8 595.6 263.2 596.6 265.3 596.2C267.4 595.8 270.6 593.1 273 591C275.4 588.9 277.4 583.8 279.5 583.3C281.6 582.8 284 586.9 285.9 588C287.8 589.1 289.3 588.4 291 589.8C292.7 591.2 294.5 594.5 296.2 596.2C297.9 597.9 299.6 600 301.3 600C303 600 304.8 598.2 306.5 596.2C308.2 594.2 309.7 589.9 311.6 588C313.5 586.1 316 585.4 318.1 585.1C320.2 584.8 322.1 584.5 324.5 586.4C326.9 588.3 329.6 595 332.2 596.7C334.8 598.4 337.4 596.9 340 596.5C342.6 596.1 345.3 594.4 347.7 594.1C350.1 593.8 351.8 595.6 354.2 594.9C356.6 594.2 359.1 590.3 361.9 589.8C364.7 589.2 368.8 594.4 370.9 591.6C373 588.8 373.3 576.4 374.8 573C376.3 569.6 377.8 570.9 379.9 571C382 571.1 385.7 571.8 387.6 573.8C389.5 575.8 390.2 580 391.5 583.3C392.8 586.6 393.9 591.5 395.4 593.6C396.9 595.8 398.6 597.1 400.5 596.2C402.4 595.4 404.6 589.6 407 588.5C409.4 587.4 412.1 588.7 414.7 589.8C417.3 590.9 420.5 593.6 422.4 594.9C424.3 596.2 424.6 597.9 426.3 597.5C428 597.1 430.6 594.7 432.7 592.3C434.8 589.9 437 586.9 439.2 583.3C441.4 579.6 443.9 573.3 445.6 570.4C447.3 567.5 448 566.3 449.5 565.8C451 565.3 452.9 564.8 454.6 567.3C456.3 569.8 457.9 575.5 459.8 580.7C461.7 586 464.5 594.6 466.2 598.8C467.9 603 468.7 604.6 470 605.7C471.3 606.8 472.2 606.6 473.9 605.2C475.6 603.8 478.2 599.6 480.4 597.5C482.5 595.4 484.4 594.7 486.8 592.3C489.2 589.9 492.1 584.8 494.5 583.3C496.9 581.8 499.1 583.7 501 583.3C502.9 582.9 504.2 580.7 506.1 580.7C508 580.7 510.4 582.8 512.5 583.3C514.6 583.8 516.2 582.9 519 583.8C521.8 584.7 525.9 587.3 529.3 588.5C532.7 589.7 537.9 590.6 539.6 591" fill="none" stroke="#e02626" stroke-width="1"/>
</g>
<text x="16.5" y="486.8" fill="#55b855" font-size="10.3">VOLUMECASH</text>
<text x="661.5" y="503.7" fill="#707070" font-size="10">400M</text>
<text x="661.5" y="565.7" fill="#707070" font-size="10">200M</text>
<g clip-path="url(#cz1)"><text x="661.5" y="628.9" fill="#707070" font-size="10">0</text></g>
<rect x="658.3" y="580" width="41" height="14.7" fill="#0aa20a"/>
<text x="661.5" y="591" fill="#fff" font-size="10">113M</text>
<rect x="12.5" y="629.5" width="645.0" height="30.0" fill="#ff0000" fill-opacity="0.15"/>
<rect x="12.5" y="750.5" width="645.0" height="30.0" fill="#008000" fill-opacity="0.15"/>
<path d="M12.5 659.5H657.5" stroke="#ee8a8a" stroke-width="1"/>
<path d="M12.5 750.5H657.5" stroke="#7ab87a" stroke-width="1"/>
<path d="M12.5 705.5H657.5" stroke="#8fb4e0" stroke-width="1"/>
<g clip-path="url(#c3)">
<path d="M16.7 702L20 704L25 699.3L28.3 698.7L32.3 696.3L35.7 702L39.3 697.3L43.3 690.7L47 691.3L50.7 692.7L55 686L58.7 682.3L62 666.7L66 684L70 680.7L73.3 680L77.3 677.3L81.7 672.7L86 669.7L89.3 669.3L93.3 667L97 672.7L100.7 670.7L104.3 669L108.7 680.3L112 677.3L116 685.7L120 682.7L123.3 683.3L127.3 700L131 723L135 723.3L138.7 720.7L142.7 717.3L146.3 713.7L150 717.7L154 715.7L158 705.7L162 712.7L166 707.3L169.3 703.3L173.3 692.7L177 684.7L180.7 687.3L184.3 680.7L188.7 695.3L192.3 696.7L196.3 692.7L200 689L204 693.3L207.7 697.3L211.3 695.3L215.3 700.3L219 695.3L222.7 699.3L226.7 702.3L230 700L231.7 700L238.3 700.7L241.7 717.3L245.7 723.7L250 715L253.3 715L257.3 717.3L261 718.3L265.7 707.3L269 703.3L272.7 697.3L276.7 715.7L280.7 719.3L284.3 719L288.3 719.3L292.3 714.3L296 712.7L300 713.3L304 707.3L307 702L311.7 716L315 702.7L318.3 702.7L322.3 704.7L326 704L330.7 695.7L335 704.7L338.3 691.3L341.7 691.3L346 682.7L349.3 681L353.3 690L357.3 690L361.7 701.3L365 698.7L368.3 695.3L373.3 701.3L376.7 699.3L380.7 691.3L384 685.3L388.3 683.3L391.7 683L396 684.7L399.3 678L403.3 683.3L407 674.7L410.7 682L415 678.3L418.3 677.3L422.3 674.7L426 671.3L430 678L434 676L437.3 675.3L441.7 666.7L445 663.3L449.3 662L453.3 665L458.9 664.5L463.5 666.7L468.9 662L472.4 669.2L476 664.9L479.9 664.2L483.8 669.2L488.1 677L491.7 672L495.6 680.6L499.2 683.1L502.7 681.3L507 675.6L510.6 675.6L514.1 683.4L518.4 691.3L522 694.8L525.5 697L529.8 684.1L533.4 692L537.3 684.1L540.8 679.1" fill="none" stroke="#3878c0" stroke-width="1.1" stroke-linejoin="round"/>
</g>
<text x="16.5" y="640.3" fill="#3c6ec0" font-size="10.3">RSI (14)</text>
<text x="661.5" y="646.6" fill="#707070" font-size="10">90.00</text>
<text x="661.5" y="690.8" fill="#707070" font-size="10">60.00</text>
<text x="661.5" y="736.5" fill="#707070" font-size="10">30.000</text>
<g clip-path="url(#cz2)"><text x="661.5" y="782.4" fill="#707070" font-size="10">0</text></g>
<rect x="658.3" y="667.3" width="41" height="14.5" fill="#1862cc"/>
<text x="661.5" y="678.2" fill="#fff" font-size="10">67.06</text>
<text x="83.2" y="794.6" fill="#707070" font-size="10" text-anchor="middle">08/08</text>
<text x="152.2" y="794.6" fill="#707070" font-size="10" text-anchor="middle">03/09</text>
<text x="221.2" y="794.6" fill="#707070" font-size="10" text-anchor="middle">29/09</text>
<text x="290.2" y="794.6" fill="#707070" font-size="10" text-anchor="middle">23/10</text>
<text x="359.2" y="794.6" fill="#707070" font-size="10" text-anchor="middle">18/11</text>
<text x="428.2" y="794.6" fill="#707070" font-size="10" text-anchor="middle">12/12</text>
<text x="497.2" y="794.6" fill="#707070" font-size="10" text-anchor="middle">12/01</text>
<text x="566.2" y="794.6" fill="#707070" font-size="10" text-anchor="middle">07/02</text>
<text x="635.2" y="794.6" fill="#707070" font-size="10" text-anchor="middle">04/03</text>
</svg>
</body></html>
